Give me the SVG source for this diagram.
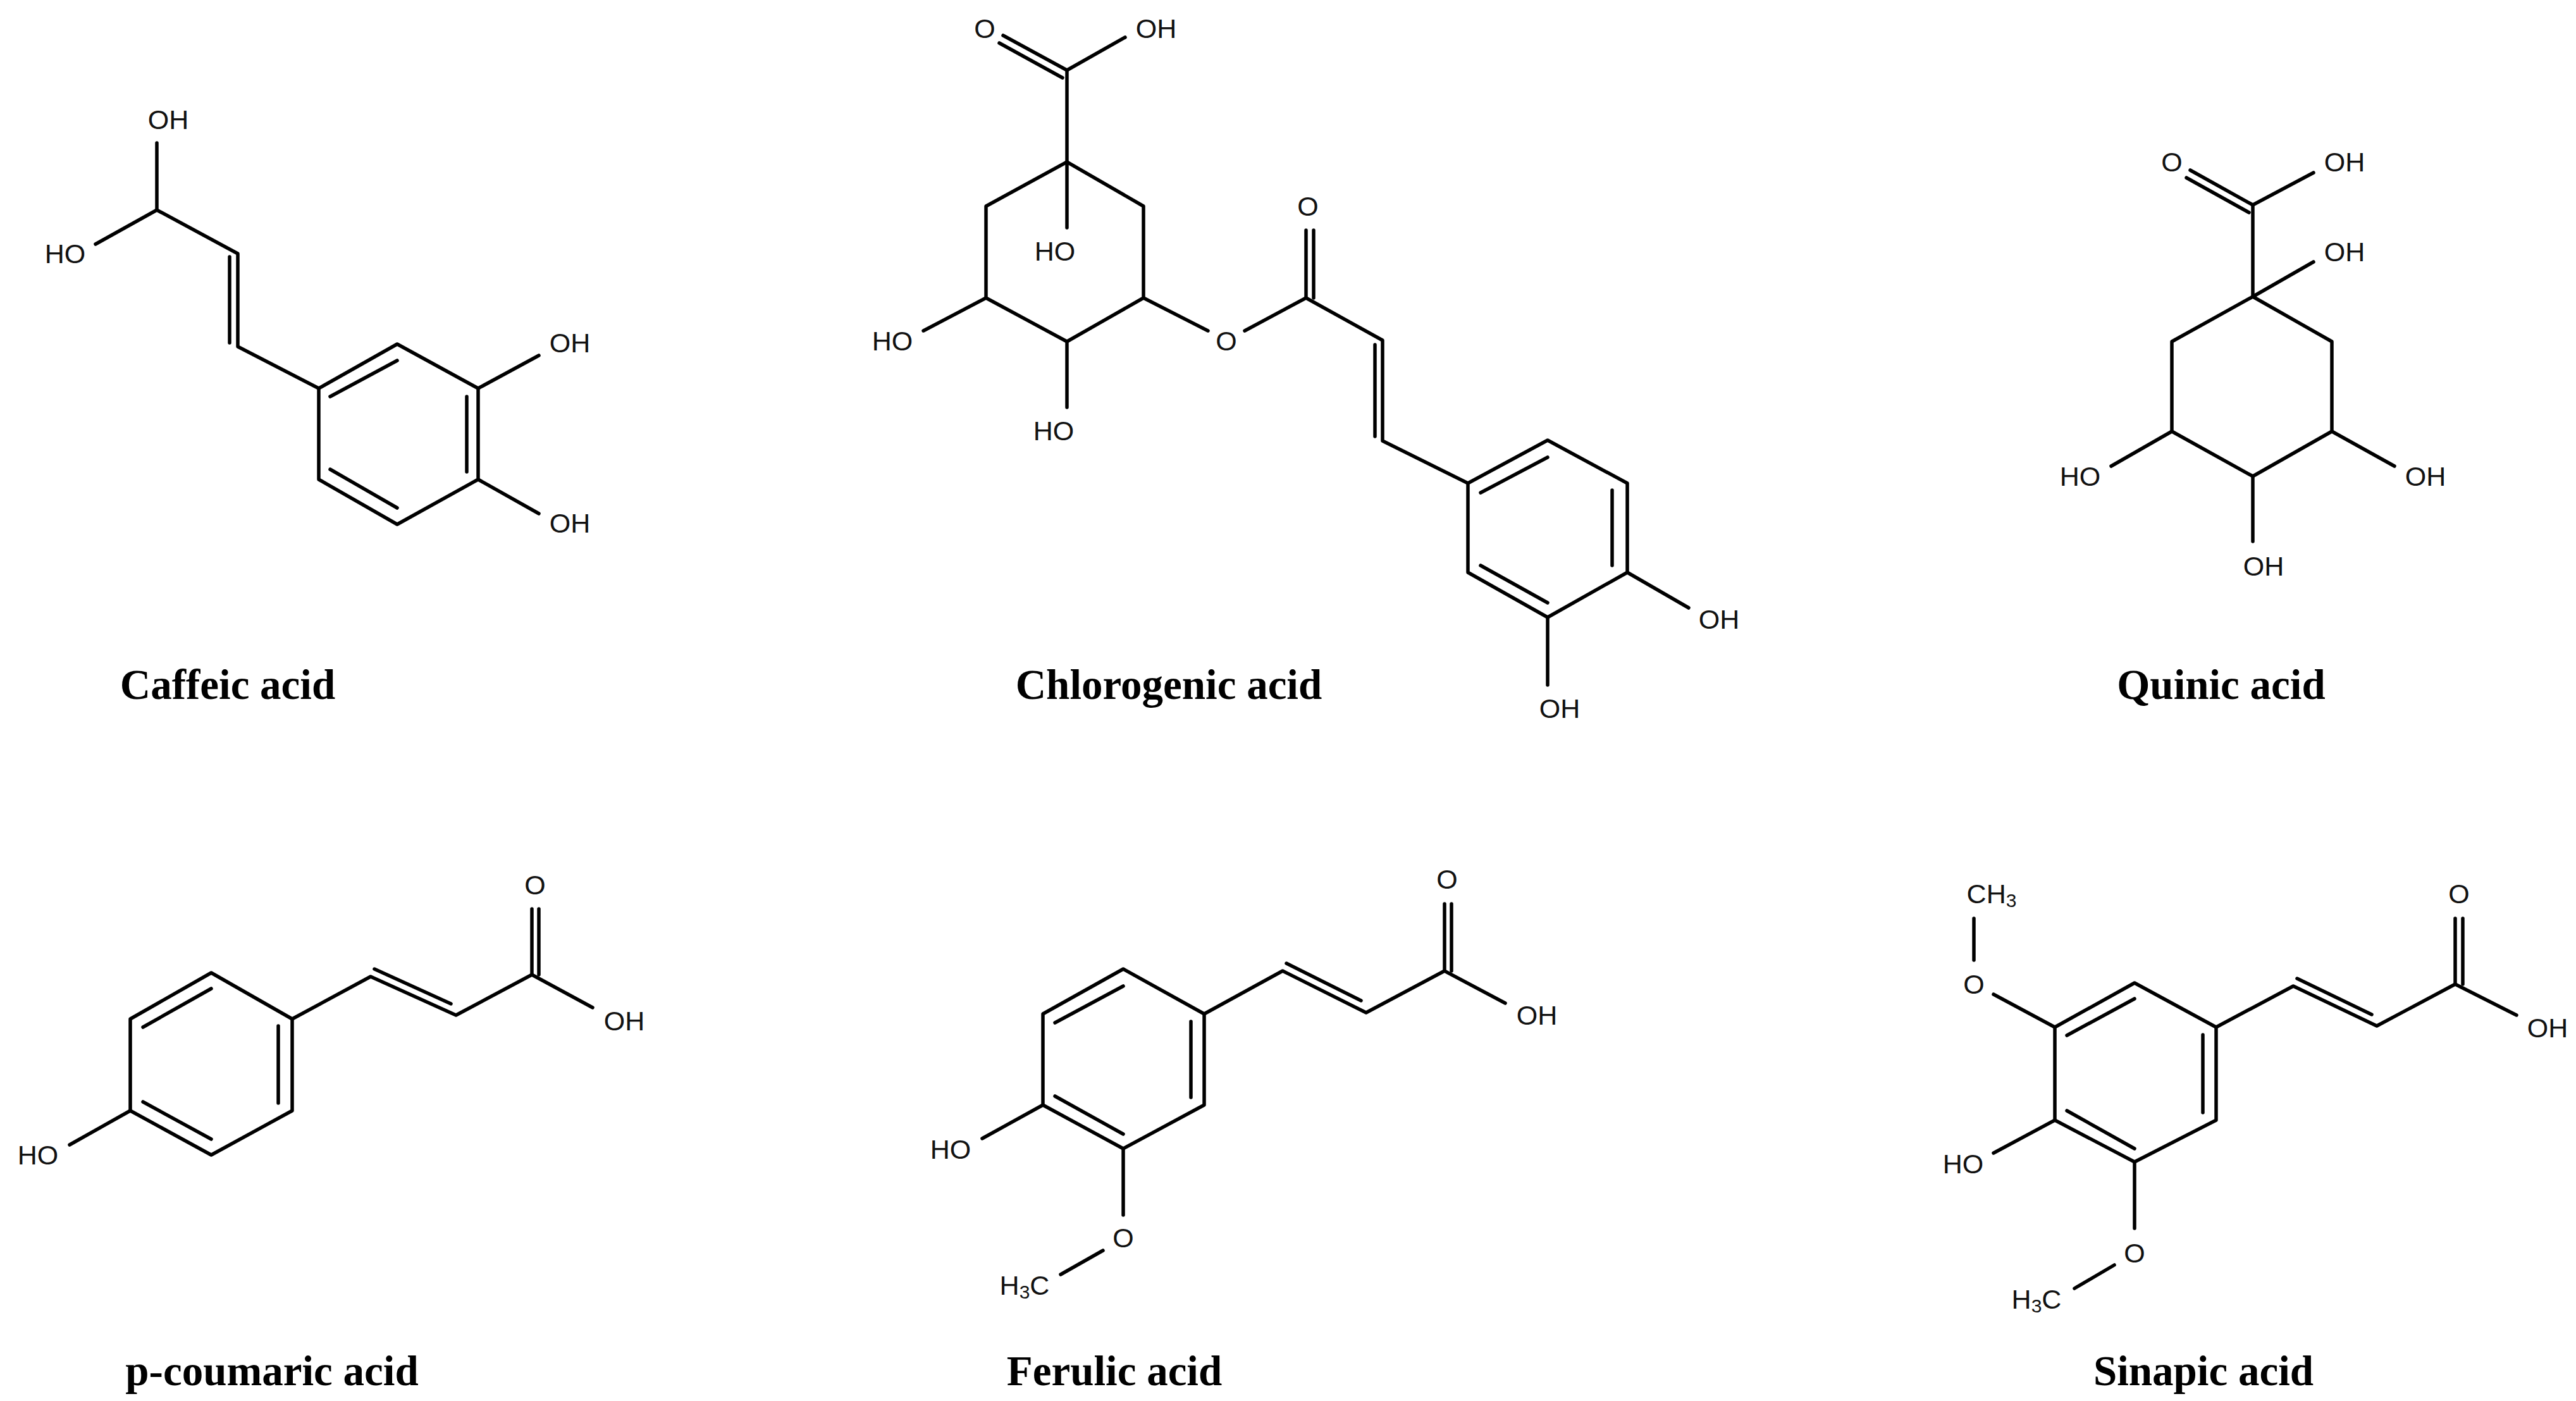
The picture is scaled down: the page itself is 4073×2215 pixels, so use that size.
<svg xmlns="http://www.w3.org/2000/svg" width="4073" height="2215" viewBox="0 0 4073 2215">
<style>
line,polyline,polygon{stroke:#000;stroke-width:5.5;fill:none;stroke-linecap:round;stroke-linejoin:round}
.a{font-family:"Liberation Sans",Arial,sans-serif;font-size:43px;fill:#111;text-anchor:middle;dominant-baseline:central}
.c{font-family:"Liberation Serif","Times New Roman",serif;font-weight:bold;font-size:67px;fill:#000;text-anchor:middle}
.s{font-size:30px}
</style>
<rect width="4073" height="2215" fill="#fff"/>
<g id="caffeic">
<polyline points="248,226 248,332 376,401 376,548 504,614"/>
<line x1="248" y1="332" x2="151" y2="386"/>
<line x1="363" y1="406" x2="363" y2="542"/>
<polygon points="504,614 628,544 756,614 756,758 628,829 504,758"/>
<line x1="522" y1="627" x2="628" y2="570"/>
<line x1="738" y1="627" x2="738" y2="746"/>
<line x1="522" y1="742" x2="628" y2="803"/>
<line x1="756" y1="614" x2="852" y2="562"/>
<line x1="756" y1="758" x2="852" y2="812"/>
<text class="a" x="266" y="189">OH</text>
<text class="a" x="103" y="401">HO</text>
<text class="a" x="901" y="542">OH</text>
<text class="a" x="901" y="827">OH</text>
<text class="c" x="360" y="1105">Caffeic acid</text>
</g>
<g id="chlorogenic">
<line x1="1687" y1="111" x2="1586" y2="56"/>
<line x1="1680" y1="123" x2="1580" y2="68"/>
<line x1="1687" y1="111" x2="1779" y2="59"/>
<line x1="1687" y1="111" x2="1687" y2="256"/>
<polygon points="1687,256 1808,326 1808,471 1687,540 1559,471 1559,326"/>
<line x1="1687" y1="256" x2="1687" y2="360"/>
<line x1="1559" y1="471" x2="1460" y2="523"/>
<line x1="1687" y1="540" x2="1687" y2="644"/>
<line x1="1808" y1="471" x2="1910" y2="523"/>
<polyline points="1968,523 2065,471 2186,538 2186,697 2321,764"/>
<line x1="2065" y1="471" x2="2065" y2="364"/>
<line x1="2077" y1="471" x2="2077" y2="364"/>
<line x1="2174" y1="545" x2="2174" y2="690"/>
<polygon points="2321,764 2447,696 2573,764 2573,905 2447,976 2321,905"/>
<line x1="2341" y1="779" x2="2447" y2="723"/>
<line x1="2549" y1="775" x2="2549" y2="894"/>
<line x1="2341" y1="894" x2="2447" y2="953"/>
<line x1="2573" y1="905" x2="2670" y2="961"/>
<line x1="2447" y1="976" x2="2447" y2="1083"/>
<text class="a" x="1557" y="45">O</text>
<text class="a" x="1828" y="45">OH</text>
<text class="a" x="1668" y="397">HO</text>
<text class="a" x="1411" y="539">HO</text>
<text class="a" x="1666" y="681">HO</text>
<text class="a" x="1939" y="539">O</text>
<text class="a" x="2068" y="326">O</text>
<text class="a" x="2718" y="979">OH</text>
<text class="a" x="2466" y="1120">OH</text>
<text class="c" x="1848" y="1105">Chlorogenic acid</text>
</g>
<g id="quinic">
<line x1="3562" y1="324" x2="3463" y2="269"/>
<line x1="3556" y1="336" x2="3457" y2="281"/>
<line x1="3562" y1="324" x2="3658" y2="273"/>
<line x1="3562" y1="324" x2="3562" y2="469"/>
<line x1="3562" y1="469" x2="3658" y2="414"/>
<polygon points="3562,469 3687,540 3687,682 3562,753 3434,682 3434,540"/>
<line x1="3434" y1="682" x2="3338" y2="737"/>
<line x1="3687" y1="682" x2="3786" y2="737"/>
<line x1="3562" y1="753" x2="3562" y2="856"/>
<text class="a" x="3434" y="256">O</text>
<text class="a" x="3707" y="256">OH</text>
<text class="a" x="3707" y="398">OH</text>
<text class="a" x="3289" y="753">HO</text>
<text class="a" x="3835" y="753">OH</text>
<text class="a" x="3579" y="895">OH</text>
<text class="c" x="3512" y="1105">Quinic acid</text>
</g>
<g id="pcoumaric">
<polygon points="334,1538 462,1611 462,1756 334,1826 206,1756 206,1611"/>
<line x1="226" y1="1624" x2="334" y2="1563"/>
<line x1="440" y1="1622" x2="440" y2="1744"/>
<line x1="226" y1="1742" x2="334" y2="1801"/>
<line x1="206" y1="1756" x2="110" y2="1810"/>
<polyline points="462,1611 586,1544 721,1605 841,1541 937,1593"/>
<line x1="592" y1="1532" x2="713" y2="1587"/>
<line x1="841" y1="1541" x2="841" y2="1437"/>
<line x1="852" y1="1541" x2="852" y2="1437"/>
<text class="a" x="60" y="1826">HO</text>
<text class="a" x="846" y="1399">O</text>
<text class="a" x="987" y="1614">OH</text>
<text class="c" x="430" y="2190">p-coumaric acid</text>
</g>
<g id="ferulic">
<polygon points="1776,1532 1904,1603 1904,1747 1776,1816 1649,1747 1649,1603"/>
<line x1="1668" y1="1617" x2="1776" y2="1559"/>
<line x1="1883" y1="1615" x2="1883" y2="1735"/>
<line x1="1668" y1="1733" x2="1776" y2="1793"/>
<line x1="1649" y1="1747" x2="1553" y2="1800"/>
<line x1="1776" y1="1816" x2="1776" y2="1921"/>
<line x1="1744" y1="1977" x2="1677" y2="2015"/>
<polyline points="1904,1603 2028,1535 2160,1601 2284,1535 2380,1586"/>
<line x1="2034" y1="1523" x2="2152" y2="1582"/>
<line x1="2284" y1="1535" x2="2284" y2="1429"/>
<line x1="2295" y1="1535" x2="2295" y2="1429"/>
<text class="a" x="1503" y="1817">HO</text>
<text class="a" x="1776" y="1957">O</text>
<text class="a" x="1620" y="2032">H<tspan class="s" dy="10">3</tspan><tspan dy="-10">C</tspan></text>
<text class="a" x="2288" y="1390">O</text>
<text class="a" x="2430" y="1605">OH</text>
<text class="c" x="1762" y="2190">Ferulic acid</text>
</g>
<g id="sinapic">
<polygon points="3375,1554 3504,1624 3504,1771 3375,1837 3249,1771 3249,1624"/>
<line x1="3268" y1="1637" x2="3375" y2="1579"/>
<line x1="3483" y1="1636" x2="3483" y2="1759"/>
<line x1="3268" y1="1756" x2="3375" y2="1816"/>
<line x1="3249" y1="1624" x2="3152" y2="1572"/>
<line x1="3121" y1="1518" x2="3121" y2="1452"/>
<line x1="3249" y1="1771" x2="3152" y2="1823"/>
<line x1="3375" y1="1837" x2="3375" y2="1942"/>
<line x1="3343" y1="2000" x2="3280" y2="2037"/>
<polyline points="3504,1624 3626,1559 3758,1622 3882,1556 3979,1605"/>
<line x1="3632" y1="1547" x2="3750" y2="1604"/>
<line x1="3882" y1="1556" x2="3882" y2="1452"/>
<line x1="3894" y1="1556" x2="3894" y2="1452"/>
<text class="a" x="3121" y="1556">O</text>
<text class="a" x="3149" y="1413">CH<tspan class="s" dy="10">3</tspan></text>
<text class="a" x="3104" y="1840">HO</text>
<text class="a" x="3375" y="1981">O</text>
<text class="a" x="3220" y="2054">H<tspan class="s" dy="10">3</tspan><tspan dy="-10">C</tspan></text>
<text class="a" x="3888" y="1413">O</text>
<text class="a" x="4028" y="1625">OH</text>
<text class="c" x="3484" y="2190">Sinapic acid</text>
</g>
<g id="connectors"/>
</svg>
